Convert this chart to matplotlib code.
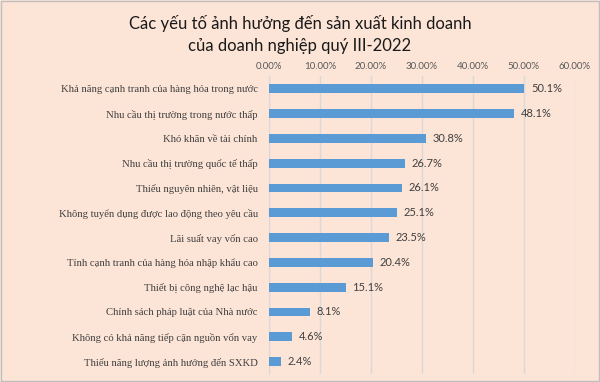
import matplotlib
matplotlib.use("Agg")
import matplotlib.pyplot as plt
import numpy as np

# data
categories = [
    "Khả năng cạnh tranh của hàng hóa trong nước",
    "Nhu cầu thị trường trong nước thấp",
    "Khó khăn về tài chính",
    "Nhu cầu thị trường quốc tế thấp",
    "Thiếu nguyên nhiên, vật liệu",
    "Không tuyển dụng được lao động theo yêu cầu",
    "Lãi suất vay vốn cao",
    "Tính cạnh tranh của hàng hóa nhập khẩu cao",
    "Thiết bị công nghệ lạc hậu",
    "Chính sách pháp luật của Nhà nước",
    "Không có khả năng tiếp cận nguồn vốn vay",
    "Thiếu năng lượng ảnh hưởng đến SXKD",
]
values = [50.1, 48.1, 30.8, 26.7, 26.1, 25.1, 23.5, 20.4, 15.1, 8.1, 4.6, 2.4]
xticks = [0, 10, 20, 30, 40, 50, 60]
xtick_labels = ["0.00%", "10.00%", "20.00%", "30.00%", "40.00%", "50.00%", "60.00%"]

bg = "#FCE4D6"
bar_color = "#5B9BD5"

fig = plt.figure(figsize=(6.0, 3.82), dpi=100, facecolor=bg)
ax = fig.add_axes([0.448, 0.021, 0.51, 0.779])
ax.set_facecolor(bg)

y = np.arange(len(categories))
ax.barh(y, values, height=0.36, color=bar_color, zorder=3)
ax.set_ylim(len(categories) - 0.5, -0.5)
ax.set_xlim(0, 60)

ax.set_yticks(y)
ax.set_yticklabels(categories, fontfamily="Liberation Serif", fontsize=7.7, color="#404040")
ax.tick_params(axis="y", length=0, pad=8)

ax.xaxis.tick_top()
ax.set_xticks(xticks)
ax.set_xticklabels(xtick_labels, fontfamily="Lato", fontsize=7, color="#595959")
ax.tick_params(axis="x", length=0, pad=4)
ax.grid(axis="x", color="#D9D9D9", linewidth=1, zorder=0)

for s in ["top", "right", "bottom"]:
    ax.spines[s].set_visible(False)
ax.spines["left"].set_color("#D9D9D9")

for yi, v in zip(y, values):
    ax.text(v + 1.3, yi, f"{v:.1f}%", va="center", ha="left",
            fontfamily="Lato", fontsize=8, color="#404040")

fig.text(0.5, 0.938, "Các yếu tố ảnh hưởng đến sản xuất kinh doanh",
         ha="center", va="center", fontfamily="Lato", fontsize=12, color="#1A1A1A")
fig.text(0.5, 0.88, "của doanh nghiệp quý III-2022",
         ha="center", va="center", fontfamily="Lato", fontsize=12, color="#1A1A1A")

# thin frame round the picture
fig.patches.append(plt.Rectangle((0.001, 0.002), 0.997, 0.995, transform=fig.transFigure,
                                 fill=False, edgecolor="#BFBFBF", linewidth=1))

fig.savefig("out.png", dpi=100, facecolor=bg)
